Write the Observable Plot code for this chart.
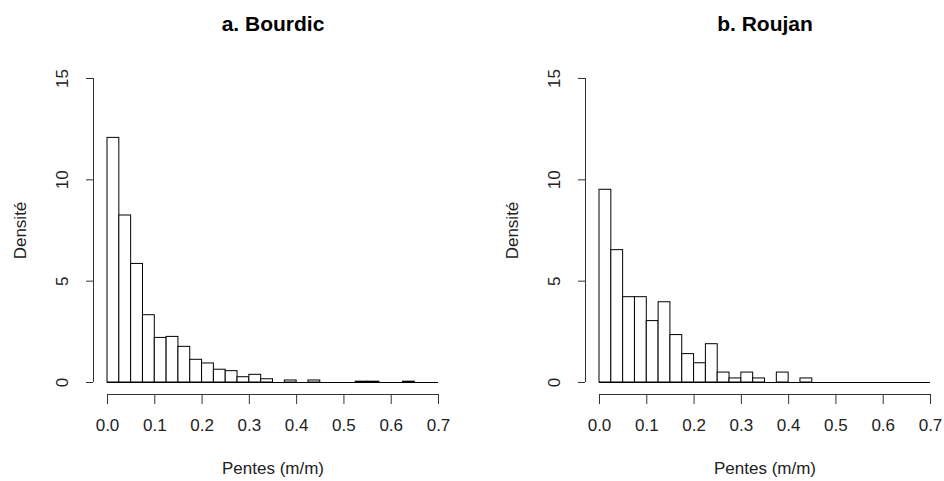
<!DOCTYPE html>
<html>
<head>
<meta charset="utf-8">
<script src="https://cdn.jsdelivr.net/npm/d3@7"></script>
<script src="https://cdn.jsdelivr.net/npm/@observablehq/plot@0.6"></script>
<style>
  html, body { margin: 0; padding: 0; background: #fff; }
  #wrap { display: flex; width: 944px; height: 481px; }
</style>
</head>
<body>
<div id="wrap"></div>
<script>
// Bin left edges (bin width 0.025)
const binStart = [0, 0.025, 0.05, 0.075, 0.1, 0.125, 0.15, 0.175, 0.2, 0.225, 0.25, 0.275, 0.3, 0.325,
                  0.35, 0.375, 0.4, 0.425, 0.45, 0.475, 0.5, 0.525, 0.55, 0.575, 0.6, 0.625, 0.65, 0.675];
const binWidth = 0.025;
// Density values
const densityBourdic = [12.07, 8.24, 5.85, 3.32, 2.20, 2.25, 1.76, 1.12, 0.94, 0.63, 0.56, 0.26, 0.38, 0.16,
                        0, 0.10, 0, 0.10, 0, 0, 0, 0.04, 0.04, 0, 0, 0.04, 0, 0];
const densityRoujan  = [9.51, 6.53, 4.21, 4.21, 3.03, 3.96, 2.34, 1.40, 0.95, 1.89, 0.49, 0.20, 0.49, 0.20,
                        0, 0.49, 0, 0.20, 0, 0, 0, 0, 0, 0, 0, 0, 0, 0];
const titles = ["a. Bourdic", "b. Roujan"];
const xTicks = [0, 0.1, 0.2, 0.3, 0.4, 0.5, 0.6, 0.7];
const yTicks = [0, 5, 10, 15];
const xLabel = "Pentes (m/m)";
const yLabel = "Densité";

const font = "'Liberation Sans', Arial, Helvetica, sans-serif";

function panel(title, density, width, marginLeft, marginRight) {
  const bins = binStart.map((s, i) => ({x0: s, x1: s + binWidth, d: density[i]}));
  const axisColor = "#333";
  return Plot.plot({
    width, height: 481,
    marginTop: 78, marginBottom: 99, marginLeft, marginRight,
    x: {domain: [0, 0.7]},
    y: {domain: [0, 15]},
    style: {fontFamily: font, fontSize: "17px", background: "#fff", color: "#000"},
    marks: [
      Plot.ruleY([{a: 0, b: 0.7, y: 0}], {x1: "a", x2: "b", y: "y", stroke: "#000"}),
      Plot.rectY(bins.filter(b => b.d > 0), {x1: "x0", x2: "x1", y: "d", fill: "#fff", stroke: "#000", strokeWidth: 1}),
      // y axis
      Plot.ruleX([{x: 0, y1: 0, y2: 15}], {x: "x", y1: "y1", y2: "y2", dx: -14, stroke: axisColor}),
      Plot.axisY({ticks: yTicks, tickSize: 7, dx: -14, tickFormat: () => "", label: null, stroke: axisColor}),
      Plot.text(yTicks, {x: () => 0, y: d => d, text: d => String(d), rotate: -90, dx: -45, textAnchor: "middle", lineAnchor: "middle", fill: "#222"}),
      Plot.text([yLabel], {frameAnchor: "left", rotate: -90, dx: -87, textAnchor: "middle", lineAnchor: "middle", fill: "#222"}),
      // x axis
      Plot.ruleY([{a: 0, b: 0.7, y: 0}], {x1: "a", x2: "b", y: "y", dy: 12, stroke: axisColor}),
      Plot.axisX({ticks: xTicks, tickSize: 10, dy: 12, tickPadding: 14, tickFormat: d3.format(".1f"), label: null, stroke: axisColor, fill: "#222"}),
      Plot.text([xLabel], {frameAnchor: "bottom", dy: 86, lineAnchor: "middle", fill: "#222"}),
      // title
      Plot.text([title], {frameAnchor: "top", dy: -54, lineAnchor: "middle", fontWeight: "bold", fontSize: 21, fill: "#000"})
    ]
  });
}

const wrap = document.getElementById("wrap");
wrap.appendChild(panel(titles[0], densityBourdic, 480, 107, 42));
wrap.appendChild(panel(titles[1], densityRoujan, 464, 119, 14));
</script>
</body>
</html>
